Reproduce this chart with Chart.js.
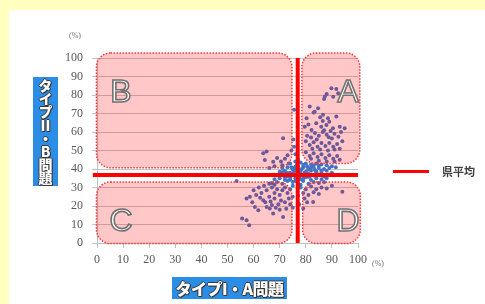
<!DOCTYPE html>
<html lang="ja">
<head>
<meta charset="UTF-8">
<title>タイプI・A問題 / タイプII・B問題</title>
<script src="https://cdn.jsdelivr.net/npm/chart.js"></script>
<style>
    html, body {
        margin: 0;
        padding: 0;
        width: 485px;
        height: 304px;
        overflow: hidden;
        background: #ffffc0;
        font-family: "Noto Sans CJK JP", sans-serif;
    }
    .panel {
        position: absolute;
        left: 9px; top: 10px; right: 0; bottom: 0;
        background: #ffffff;
    }
    #chart {
        position: absolute;
        left: 0; top: 0;
    }
    .unit {
        position: absolute;
        font-family: "Liberation Serif", serif;
        font-size: 8px;
        color: #707070;
    }
    .title-box {
        position: absolute;
        background: #2b8de6;
        color: #ffffff;
        font-weight: 900;
        text-shadow: -1px 0 0 #3a3a3a, 1px 0 0 #3a3a3a, 0 -1px 0 #3a3a3a, 0 1px 0 #3a3a3a, 1px 1px 0 #3a3a3a;
        display: flex;
        align-items: center;
        justify-content: center;
    }
    .x-title {
        left: 172px; top: 277px; width: 115px; height: 22px;
        font-size: 16px;
        letter-spacing: -0.5px;
    }
    .y-title {
        left: 33px; top: 77px; width: 25px; height: 109px;
        font-size: 14px;
        writing-mode: vertical-rl;
        text-orientation: upright;
        letter-spacing: -1px;
    }
    .combine { text-combine-upright: all; }
    .legend {
        position: absolute;
        left: 393px; top: 163px;
        display: flex;
        align-items: center;
        font-size: 11px;
        color: #404040;
        font-weight: bold;
    }
    .legend .swatch {
        width: 36px; height: 3px;
        background: #ff0000;
        margin-right: 13px;
    }
</style>
</head>
<body>
<div class="panel"></div>
<canvas id="chart" width="485" height="304"></canvas>
<div class="unit" style="left:69px; top:31px;">(%)</div>
<div class="unit" style="left:372px; top:259px;">(%)</div>
<div class="title-box x-title">タイプI・A問題</div>
<div class="title-box y-title">タイプ<span class="combine">II</span>・B問題</div>
<div class="legend"><div class="swatch"></div><span>県平均</span></div>

<script>
// タイプI・A問題 (x) と タイプII・B問題 (y) の正答率 (%)
const scoresA = [
    // 右上
    87.3, 88, 89.8, 91.7, 92.4, 87, 90.5,
    81.5, 83.4, 84.7, 86.6, 88.5, 91.7, 83, 85.5,
    80.3, 79.6, 82.2, 84, 85.9, 87.9, 90.4, 93, 94.9, 81, 86.5, 89,
    80.5, 82, 83.5, 85, 86.5, 88, 89.5, 91, 92.5, 87, 84.2, 90, 93.5, 88.8,
    80, 81.5, 83, 84.5, 86, 87.5, 89, 90.5, 92, 82.5, 85.5, 88.5, 91, 94, 93,
    80, 81.5, 83, 84.5, 86, 87.5, 89, 90.5, 92, 93, 82, 85, 88, 91,
    75.5, 75.2, 71.3, 75.5, 74.5, 76, 73,
    // 左中
    63.7, 65, 64.3, 67.5, 69, 70.5, 72, 71, 73.5, 68, 66, 74.5,
    // 中央
    74, 76, 78, 80, 82, 84, 86, 88, 90,
    71, 73, 75, 77, 79, 81, 83, 85, 87, 89, 91.5,
    70, 72, 74, 76, 78, 80, 82, 84, 86, 88, 90,
    69, 71, 73, 75, 77, 79, 81, 83, 85, 87, 89,
    68, 70, 72, 74, 76, 78, 80, 82, 84, 86, 88,
    67, 69, 71, 73, 75, 77, 79, 81, 83, 85, 87,
    76.5, 78.5, 80.5, 77.5, 79.5, 75.5, 81.5, 83.5, 74.5, 72.5, 76, 78,
    75, 77, 79, 81, 83, 85, 73, 71, 76, 78, 80, 82, 84, 86, 74, 72, 70, 79, 81, 77,
    // 左下
    53.5, 57.3, 58.6, 55.6, 57.3, 58.3, 60.5, 61.8, 63.7, 65, 66.2, 67.5, 71.3,
    62, 64, 63, 65, 66, 67, 68, 69, 70, 71, 72, 73, 74, 75,
    64.5, 66.5, 68, 69.5, 70.5, 72, 73.5, 75, 74, 68.5, 70, 72.5, 75, 67,
    61, 60, 62.5, 59.5, 66, 68,
    // 右下
    78, 80, 82, 84, 86, 88, 79, 81, 83, 85, 79.5, 82.8, 79, 80.5, 94, 90, 77, 77.5
];
const scoresB = [
    79.2, 80.5, 83.7, 83.2, 81, 77.8, 79,
    73.8, 71, 72.9, 69.3, 67.5, 68.4, 70.5, 68,
    67.5, 62.9, 61.1, 64.7, 62.9, 63.8, 62, 62.9, 62, 64, 66, 65.5,
    58, 57, 59.5, 58, 60, 58.5, 60.5, 59, 57.5, 61, 56, 56.5, 60, 57.2,
    55, 53, 54.5, 52, 54, 52.5, 54, 52, 53.5, 51, 50.5, 50, 50.5, 55, 51,
    49, 47, 48.5, 46.5, 48, 46, 47.5, 45.5, 47, 45, 45.5, 44.5, 44, 44,
    72, 56, 56.6, 52, 50, 48, 47.5,
    48.5, 49.4, 44.8, 43.9, 46, 44, 45.5, 42, 43, 41.5, 40.5, 41,
    43, 44, 43.5, 43, 42.5, 43, 42.5, 42, 41.5,
    40.5, 41, 40.5, 41.5, 41, 40, 41, 40.5, 40, 40.5, 41,
    38.5, 39, 38, 39.5, 39, 38.5, 39, 38, 38.5, 39, 38,
    36.5, 37, 36, 37.5, 37, 36.5, 37.5, 36.5, 37, 36, 37,
    34.5, 35, 34, 35.5, 35, 34.5, 35.5, 34, 35, 34.5, 35,
    32.5, 33, 32, 33.5, 33, 32.5, 33.5, 32, 33, 32.5, 33,
    42, 40, 41.5, 36, 38, 38.5, 36, 39.5, 36.5, 37.5, 33.5, 31.5,
    39.8, 40.2, 42.3, 39.7, 42, 41.8, 37.8, 38.2, 41.2, 37.6, 36.2, 40.8, 38.8, 39.2, 34.2, 35.6, 37.2, 34.8, 35.8, 45,
    33.5, 24, 25, 13.2, 12.3, 9.6, 19.5, 17.7, 23.1, 19.5, 18.6, 15.9, 14.1,
    30, 31, 27, 28.5, 25, 30, 27, 29, 26, 28.5, 30, 27, 29, 31,
    22, 22.5, 24, 21, 23, 22, 24, 25, 21, 19, 18, 18.5, 19, 20.5,
    26, 28.5, 24.5, 22, 32, 31.5,
    30, 29, 30.5, 29, 30, 29.5, 27, 26, 27.5, 26.5, 24, 22.2, 18.6, 22, 27.7, 31, 25.5, 21
];
const prefAvgA = 76.9;   // 県平均 タイプI・A
const prefAvgB = 36.7;   // 県平均 タイプII・B
const tickValues = [0, 10, 20, 30, 40, 50, 60, 70, 80, 90, 100];

const points = scoresA.map((x, i) => ({ x: x, y: scoresB[i] }));

// 区分 A〜D の枠 (データ座標)
const zones = [
    { name: 'A', x0: 78.5, x1: 100.7, y0: 43, y1: 102.7, lx: 96.2, ly: 81.1 },
    { name: 'B', x0: -0.2, x1: 74.7, y0: 40.7, y1: 102.7, lx: 9.2, ly: 81.1 },
    { name: 'C', x0: -0.2, x1: 74.7, y0: -0.3, y1: 33, lx: 9.2, ly: 11.4 },
    { name: 'D', x0: 78.8, x1: 100.9, y0: -0.3, y1: 33, lx: 96.2, ly: 11.4 }
];

const zonePlugin = {
    id: 'zones',
    afterDatasetDraw(chart, args) {
        if (args.index !== 0) return;
        const ctx = chart.ctx;
        const xs = chart.scales.x, ys = chart.scales.y;
        ctx.save();
        zones.forEach(z => {
            const l = xs.getPixelForValue(z.x0), r = xs.getPixelForValue(z.x1);
            const t = ys.getPixelForValue(z.y1), b = ys.getPixelForValue(z.y0);
            ctx.beginPath();
            ctx.roundRect(l, t, r - l, b - t, 14);
            ctx.fillStyle = 'rgba(255, 0, 0, 0.22)';
            ctx.fill();
            ctx.setLineDash([1.5, 1.5]);
            ctx.lineWidth = 1.5;
            ctx.strokeStyle = '#ff3333';
            ctx.stroke();
        });
        ctx.restore();
    },
    afterDraw(chart) {
        const ctx = chart.ctx;
        const xs = chart.scales.x, ys = chart.scales.y;
        ctx.save();
        ctx.font = '32px "Liberation Sans", Arial, sans-serif';
        ctx.textAlign = 'center';
        ctx.textBaseline = 'middle';
        ctx.fillStyle = '#ffffff';
        ctx.strokeStyle = '#707070';
        ctx.lineWidth = 1.6;
        zones.forEach(z => {
            const px = xs.getPixelForValue(z.lx), py = ys.getPixelForValue(z.ly);
            ctx.fillText(z.name, px, py);
            ctx.strokeText(z.name, px, py);
        });
        ctx.restore();
    }
};

const tickFont = { family: '"Liberation Serif", "Times New Roman", serif', size: 12 };

new Chart(document.getElementById('chart'), {
    type: 'scatter',
    data: {
        datasets: [{
            label: '学校',
            data: points,
            backgroundColor: '#4472c4',
            borderWidth: 0,
            pointRadius: 2,
            order: 2
        }, {
            label: '県平均',
            type: 'line',
            data: [{ x: -1.6, y: prefAvgB }, { x: 100, y: prefAvgB }],
            borderColor: '#ff0000',
            borderWidth: 4,
            pointRadius: 0,
            clip: false,
            order: 1
        }, {
            label: '県平均',
            type: 'line',
            data: [{ x: prefAvgA, y: 0 }, { x: prefAvgA, y: 100 }],
            borderColor: '#ff0000',
            borderWidth: 4,
            pointRadius: 0,
            clip: false,
            order: 1
        }]
    },
    options: {
        responsive: false,
        animation: false,
        devicePixelRatio: 1,
        layout: { padding: { top: 58, right: 127, left: 0, bottom: 0 } },
        plugins: {
            legend: { display: false },
            tooltip: { enabled: false }
        },
        scales: {
            x: {
                type: 'linear',
                min: 0, max: 100,
                afterBuildTicks: s => { s.ticks = tickValues.map(v => ({ value: v })); },
                afterFit: s => { s.height = 61; },
                ticks: { font: tickFont, color: '#595959', padding: 5, maxRotation: 0 },
                grid: { drawOnChartArea: false, drawTicks: true, tickLength: 5, color: '#bfbfbf' },
                border: { color: '#bfbfbf' }
            },
            y: {
                type: 'linear',
                min: 0, max: 100,
                afterBuildTicks: s => { s.ticks = tickValues.map(v => ({ value: v })); },
                afterFit: s => { s.width = 97; },
                ticks: { font: tickFont, color: '#595959', padding: 9 },
                grid: { color: '#c4c4c4', tickLength: 5 },
                border: { color: '#bfbfbf' }
            }
        }
    },
    plugins: [zonePlugin]
});
</script>
</body>
</html>
